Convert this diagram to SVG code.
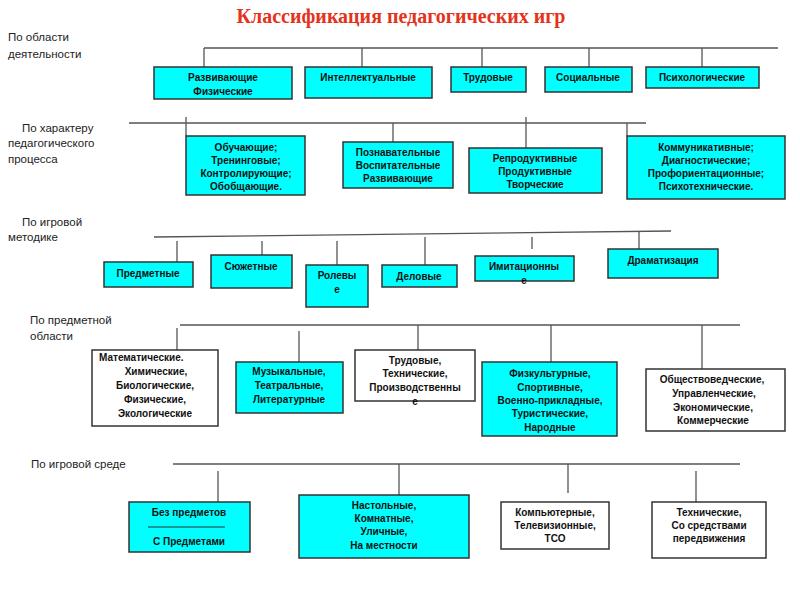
<svg xmlns="http://www.w3.org/2000/svg" width="800" height="600" viewBox="0 0 800 600">
<style>
.bg{fill:#fff}
.title{font-family:"Liberation Serif",serif;font-weight:bold;font-size:20px;fill:#e4321b;text-anchor:middle}
.lbl{font-family:"Liberation Sans",Arial,sans-serif;font-size:11.5px;fill:#222}
.c{fill:#00ffff;stroke:#333;stroke-width:1.5}
.w{fill:#fff;stroke:#333;stroke-width:1.5}
.t{font-family:"Liberation Sans",Arial,sans-serif;font-weight:bold;font-size:10px;fill:#111;text-anchor:middle}
.ln{stroke:#555;stroke-width:1.3;fill:none}
</style>
<rect class="bg" x="0" y="0" width="800" height="600"/>
<text class="title" x="401" y="23">Классификация педагогических игр</text>

<g id="labels">
<text class="lbl" x="8" y="41">По области</text>
<text class="lbl" x="8" y="58">деятельности</text>
<text class="lbl" x="22" y="132">По характеру</text>
<text class="lbl" x="8" y="147">педагогического</text>
<text class="lbl" x="8" y="163">процесса</text>
<text class="lbl" x="22" y="226">По игровой</text>
<text class="lbl" x="8" y="241">методике</text>
<text class="lbl" x="30" y="324">По предметной</text>
<text class="lbl" x="30" y="340">области</text>
<text class="lbl" x="31" y="468">По игровой среде</text>
</g>

<g id="connectors">
<line class="ln" x1="204" y1="48" x2="778" y2="48"/>
<line class="ln" x1="204" y1="48" x2="204" y2="67"/>
<line class="ln" x1="362" y1="48" x2="362" y2="67"/>
<line class="ln" x1="482" y1="48" x2="482" y2="67"/>
<line class="ln" x1="589" y1="48" x2="589" y2="67"/>
<line class="ln" x1="702" y1="48" x2="702" y2="67"/>

<line class="ln" x1="129" y1="123" x2="646" y2="123"/>
<line class="ln" x1="186" y1="117" x2="186" y2="136"/>
<line class="ln" x1="393" y1="123" x2="393" y2="142"/>
<line class="ln" x1="526" y1="117" x2="526" y2="148"/>
<line class="ln" x1="627" y1="123" x2="627" y2="136"/>

<line class="ln" x1="154" y1="237" x2="671" y2="231"/>
<line class="ln" x1="177" y1="241" x2="177" y2="262"/>
<line class="ln" x1="262" y1="241" x2="262" y2="255"/>
<line class="ln" x1="337" y1="241" x2="337" y2="265"/>
<line class="ln" x1="425" y1="237" x2="425" y2="265"/>
<line class="ln" x1="532" y1="237" x2="532" y2="249"/>
<line class="ln" x1="639" y1="231" x2="639" y2="249"/>

<line class="ln" x1="180" y1="325" x2="740" y2="325"/>
<line class="ln" x1="177" y1="328" x2="177" y2="350"/>
<line class="ln" x1="299" y1="331" x2="299" y2="362"/>
<line class="ln" x1="418" y1="325" x2="418" y2="350"/>
<line class="ln" x1="551" y1="325" x2="551" y2="362"/>
<line class="ln" x1="702" y1="325" x2="702" y2="369"/>

<line class="ln" x1="173" y1="464" x2="740" y2="464"/>
<line class="ln" x1="218" y1="471" x2="218" y2="502"/>
<line class="ln" x1="399" y1="464" x2="399" y2="495"/>
<line class="ln" x1="568" y1="464" x2="568" y2="493"/>
<line class="ln" x1="696" y1="471" x2="696" y2="502"/>
</g>

<g id="n-razv"><rect class="c" x="154" y="67" width="138" height="32"/>
<text class="t" x="223" y="81">Развивающие</text><text class="t" x="223" y="95">Физические</text></g>
<g id="n-intel"><rect class="c" x="305" y="67" width="127" height="31"/>
<text class="t" x="368" y="81">Интеллектуальные</text></g>
<g id="n-trud"><rect class="c" x="451" y="67" width="75" height="25"/>
<text class="t" x="488" y="81">Трудовые</text></g>
<g id="n-soc"><rect class="c" x="545" y="67" width="87" height="25"/>
<text class="t" x="588" y="81">Социальные</text></g>
<g id="n-psy"><rect class="c" x="646" y="67" width="113" height="21"/>
<text class="t" x="702" y="81">Психологические</text></g>

<g id="n-obuch"><rect class="c" x="186" y="136" width="119" height="59"/>
<text class="t" x="246" y="151">Обучающие;</text><text class="t" x="246" y="164">Тренинговые;</text>
<text class="t" x="246" y="177">Контролирующие;</text><text class="t" x="246" y="190">Обобщающие.</text></g>
<g id="n-pozn"><rect class="c" x="343" y="142" width="110" height="46"/>
<text class="t" x="398" y="156">Познавательные</text><text class="t" x="398" y="169">Воспитательные</text>
<text class="t" x="398" y="182">Развивающие</text></g>
<g id="n-repr"><rect class="c" x="469" y="148" width="133" height="45"/>
<text class="t" x="535" y="162">Репродуктивные</text><text class="t" x="535" y="175">Продуктивные</text>
<text class="t" x="535" y="188">Творческие</text></g>
<g id="n-komm"><rect class="c" x="627" y="136" width="158" height="63"/>
<text class="t" x="706" y="151">Коммуникативные;</text><text class="t" x="706" y="164">Диагностические;</text>
<text class="t" x="706" y="177">Профориентационные;</text><text class="t" x="706" y="190">Психотехнические.</text></g>

<g id="n-pred"><rect class="c" x="104" y="262" width="89" height="25"/>
<text class="t" x="148" y="277">Предметные</text></g>
<g id="n-syuzh"><rect class="c" x="211" y="255" width="81" height="33"/>
<text class="t" x="251" y="270">Сюжетные</text></g>
<g id="n-rol"><rect class="c" x="306" y="265" width="62" height="42"/>
<text class="t" x="337" y="279">Ролевы</text><text class="t" x="337" y="293">е</text></g>
<g id="n-delo"><rect class="c" x="382" y="265" width="75" height="22"/>
<text class="t" x="419" y="280">Деловые</text></g>
<g id="n-imit"><rect class="c" x="475" y="256" width="99" height="25"/>
<text class="t" x="524" y="270">Имитационны</text><text class="t" x="524" y="284">е</text></g>
<g id="n-dram"><rect class="c" x="608" y="249" width="110" height="29"/>
<text class="t" x="663" y="264">Драматизация</text></g>

<g id="n-mat"><rect class="w" x="92" y="350" width="126" height="76"/>
<text class="t" x="99" y="361" style="text-anchor:start">Математические.</text>
<text class="t" x="156" y="375">Химические,</text><text class="t" x="155" y="389">Биологические,</text>
<text class="t" x="155" y="403">Физические,</text><text class="t" x="155" y="417">Экологические</text></g>
<g id="n-muz"><rect class="c" x="236" y="362" width="107" height="51"/>
<text class="t" x="289" y="375">Музыкальные,</text><text class="t" x="289" y="389">Театральные,</text>
<text class="t" x="289" y="403">Литературные</text></g>
<g id="n-trud2"><rect class="w" x="355" y="350" width="120" height="51"/>
<text class="t" x="415" y="364">Трудовые,</text><text class="t" x="415" y="377">Технические,</text>
<text class="t" x="415" y="391">Производственны</text><text class="t" x="415" y="405">е</text></g>
<g id="n-fiz"><rect class="c" x="482" y="362" width="135" height="74"/>
<text class="t" x="550" y="377">Физкультурные,</text><text class="t" x="550" y="391">Спортивные,</text>
<text class="t" x="550" y="404">Военно-прикладные,</text><text class="t" x="550" y="417">Туристические,</text>
<text class="t" x="550" y="431">Народные</text></g>
<g id="n-obsh"><rect class="w" x="646" y="369" width="139" height="62"/>
<text class="t" x="712" y="383">Обществоведческие,</text><text class="t" x="714" y="397">Управленческие,</text>
<text class="t" x="713" y="411">Экономические,</text><text class="t" x="713" y="424">Коммерческие</text></g>

<g id="n-bez"><rect class="c" x="129" y="502" width="121" height="50"/>
<text class="t" x="189" y="516">Без предметов</text>
<line x1="148" y1="527" x2="225" y2="527" stroke="#333" stroke-width="1"/>
<text class="t" x="189" y="545">С Предметами</text></g>
<g id="n-nast"><rect class="c" x="299" y="495" width="170" height="63"/>
<text class="t" x="384" y="509">Настольные,</text><text class="t" x="384" y="522">Комнатные,</text>
<text class="t" x="384" y="535">Уличные,</text><text class="t" x="384" y="549">На местности</text></g>
<g id="n-komp"><rect class="w" x="501" y="502" width="108" height="47"/>
<text class="t" x="555" y="516">Компьютерные,</text><text class="t" x="555" y="529">Телевизионные,</text>
<text class="t" x="555" y="542">ТСО</text></g>
<g id="n-tech"><rect class="w" x="652" y="502" width="114" height="56"/>
<text class="t" x="709" y="516">Технические,</text><text class="t" x="709" y="529">Со средствами</text>
<text class="t" x="709" y="542">передвижения</text></g>
</svg>
